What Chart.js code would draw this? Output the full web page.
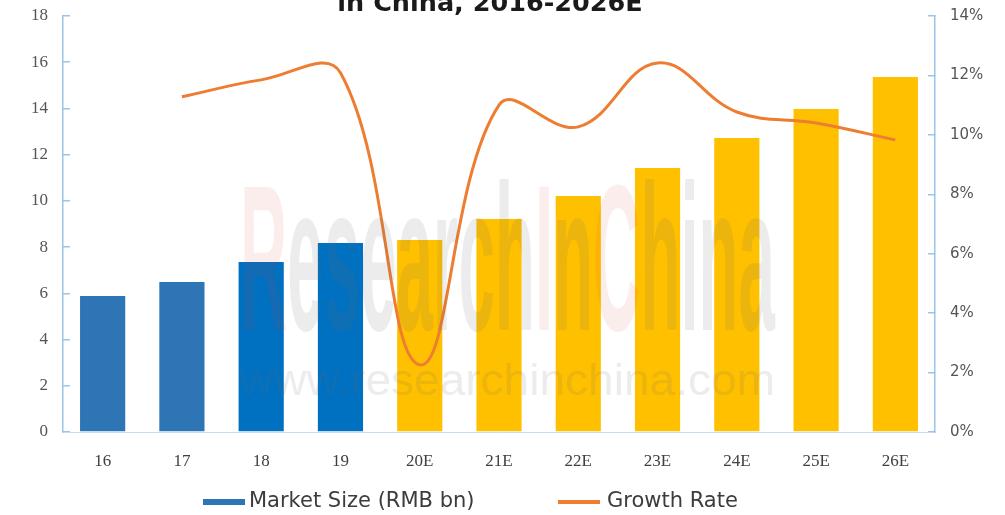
<!DOCTYPE html>
<html lang="en">
<head>
<meta charset="UTF-8">
<title>Market Size in China, 2016-2026E</title>
<script src="https://cdn.jsdelivr.net/npm/chart.js@4"></script>
<style>
    body {
        margin: 0;
        background: #ffffff;
        font-family: "DejaVu Sans", sans-serif;
    }
    .wrap {
        position: relative;
        width: 1005px;
        height: 515px;
        overflow: hidden;
    }
    canvas {
        position: absolute;
        left: 0;
        top: 0;
    }
    .title {
        position: absolute;
        left: 0;
        width: 980px;
        top: -11px;
        text-align: center;
        font: bold 25.5px/26px "DejaVu Sans", sans-serif;
        color: #1a1a1a;
        white-space: nowrap;
    }
    .legend-box {
        position: absolute;
    }
    .legend-text {
        position: absolute;
        top: 490px;
        font: 21px/21px "DejaVu Sans", sans-serif;
        color: #3c3c3c;
        white-space: nowrap;
    }
</style>
</head>
<body>
<div class="wrap">
    <canvas id="chart" width="1005" height="515"></canvas>
    <div class="title">in China, 2016-2026E</div>
    <div class="legend-box" style="left:203px; top:499px; width:42px; height:6px; background:#2e75b6;"></div>
    <div class="legend-text" style="left:249px;">Market Size (RMB bn)</div>
    <div class="legend-box" style="left:558px; top:500px; width:42px; height:4px; background:#ed7d31;"></div>
    <div class="legend-text" style="left:607px;">Growth Rate</div>
</div>

<script>
    const years = ['16', '17', '18', '19', '20E', '21E', '22E', '23E', '24E', '25E', '26E'];
    const marketSize = [5.88, 6.49, 7.36, 8.18, 8.31, 9.22, 10.21, 11.42, 12.72, 13.98, 15.36];
    const growthRate = [null, 11.28, 11.85, 12.09, 2.26, 11.0, 10.27, 12.42, 10.77, 10.4, 9.83];
    const barColors = ['#2e75b6', '#2e75b6', '#0070c0', '#0070c0',
        '#ffc000', '#ffc000', '#ffc000', '#ffc000', '#ffc000', '#ffc000', '#ffc000'];
    const leftTicks = [0, 2, 4, 6, 8, 10, 12, 14, 16, 18];
    const rightTicks = [0, 2, 4, 6, 8, 10, 12, 14];

    const axisBlue = '#9dc3e6';

    // faint "ResearchInChina" watermark over the bars
    const watermark = {
        id: 'watermark',
        afterDatasetsDraw(chart) {
            const ctx = chart.ctx;
            ctx.save();
            const pink = 'rgba(220,60,60,0.09)';
            const grey = 'rgba(110,110,110,0.13)';
            const parts = [
                ['R', pink], ['esearch', grey], ['I', pink],
                ['n', grey], ['C', pink], ['hina', grey]
            ];
            ctx.font = 'bold 208px "Liberation Sans", sans-serif';
            ctx.textBaseline = 'alphabetic';
            const full = parts.map(p => p[0]).join('');
            const w = ctx.measureText(full).width;
            ctx.translate(240, 330);
            ctx.scale(535 / w, 1);
            let x = 0;
            parts.forEach(p => {
                ctx.fillStyle = p[1];
                ctx.fillText(p[0], x, 0);
                x += ctx.measureText(p[0]).width;
            });
            ctx.restore();

            ctx.save();
            ctx.font = '44px "Liberation Sans", sans-serif';
            ctx.fillStyle = 'rgba(110,110,110,0.13)';
            const url = 'www.researchinchina.com';
            const uw = ctx.measureText(url).width;
            ctx.translate(240, 395);
            ctx.scale(535 / uw, 1);
            ctx.fillText(url, 0, 0);
            ctx.restore();
        }
    };

    // plot area: x 63..935, y 16..432
    function fitVertical(width) {
        return function (scale) {
            scale.width = width;
            scale.paddingTop = 16;
            scale.paddingBottom = 0;
        };
    }

    new Chart(document.getElementById('chart'), {
        data: {
            labels: years,
            datasets: [{
                type: 'line',
                label: 'Growth Rate',
                data: growthRate,
                yAxisID: 'y1',
                borderColor: '#ed7d31',
                backgroundColor: '#ed7d31',
                borderWidth: 3,
                pointRadius: 0,
                tension: 0.4,
                spanGaps: false,
                order: 0
            }, {
                type: 'bar',
                label: 'Market Size (RMB bn)',
                data: marketSize,
                yAxisID: 'y',
                backgroundColor: barColors,
                barPercentage: 0.57,
                categoryPercentage: 1,
                order: 1
            }]
        },
        options: {
            responsive: false,
            animation: false,
            events: [],
            layout: { padding: 0 },
            plugins: {
                legend: { display: false },
                title: { display: false },
                tooltip: { enabled: false }
            },
            scales: {
                x: {
                    grid: { display: false },
                    border: { display: true, color: '#c9dcef', width: 1 },
                    ticks: {
                        padding: 11,
                        color: '#404040',
                        font: { family: '"Liberation Serif", serif', size: 17 }
                    },
                    afterFit(scale) { scale.height = 83; }
                },
                y: {
                    position: 'left',
                    min: 0,
                    max: 18,
                    afterBuildTicks(scale) { scale.ticks = leftTicks.map(v => ({ value: v })); },
                    grid: {
                        drawOnChartArea: false,
                        drawTicks: true,
                        tickLength: -7,
                        color: axisBlue,
                        lineWidth: 1.5
                    },
                    border: { display: true, color: axisBlue, width: 1.5 },
                    ticks: {
                        padding: 22,
                        color: '#555555',
                        font: { family: '"Liberation Serif", serif', size: 17 }
                    },
                    afterFit: fitVertical(63)
                },
                y1: {
                    position: 'right',
                    min: 0,
                    max: 14,
                    afterBuildTicks(scale) { scale.ticks = rightTicks.map(v => ({ value: v })); },
                    grid: {
                        drawOnChartArea: false,
                        drawTicks: true,
                        tickLength: -7,
                        color: axisBlue,
                        lineWidth: 1.5
                    },
                    border: { display: true, color: axisBlue, width: 1.5 },
                    ticks: {
                        padding: 22,
                        color: '#555555',
                        font: { family: '"DejaVu Sans", sans-serif', size: 15 },
                        callback: v => v + '%'
                    },
                    afterFit: fitVertical(70)
                }
            }
        },
        plugins: [watermark]
    });
</script>
</body>
</html>
